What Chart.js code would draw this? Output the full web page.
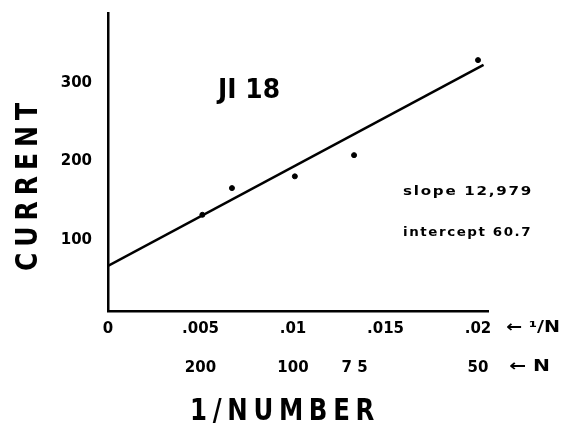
<!DOCTYPE html>
<html>
<head>
<meta charset="utf-8">
<script src="https://cdn.jsdelivr.net/npm/chart.js@4.4.1/dist/chart.umd.min.js"></script>
<style>
html, body { margin: 0; padding: 0; background: #fff; }
</style>
</head>
<body>
<canvas id="chart" width="562" height="423"></canvas>
<script>
// measured points (1/N vs current)
var invN = [0.0051, 0.0067, 0.0101, 0.0133, 0.0200];
var current = [132, 166, 181, 208, 329];
// fitted line as drawn
var fitX = [0, 0.0203];
var fitY = [67, 323];
// axis ticks
var xTicks = [0, 0.005, 0.01, 0.015, 0.02];
var xTickLabels = ['0', '.005', '.01', '.015', '.02'];
var nTicks = [0.005, 0.01, 0.013333, 0.02];
var nTickLabels = ['200', '100', '7 5', '50'];
var yTicks = [100, 200, 300];
var yTickLabels = ['100', '200', '300'];

var tickFont = { family: 'DejaVu Sans', size: 15, weight: 'bold' };

// draw text squeezed/stretched to a given width
function fitText(ctx, text, x, y, width, rot) {
    ctx.save();
    ctx.translate(x, y);
    if (rot) ctx.rotate(rot);
    var w = ctx.measureText(text).width;
    ctx.scale(width / w, 1);
    ctx.fillText(text, 0, 0);
    ctx.restore();
}

var labelsPlugin = {
    id: 'labels',
    afterDraw: function(chart) {
        var ctx = chart.ctx;
        var xs = chart.scales.x, ys = chart.scales.y;
        ctx.save();
        ctx.fillStyle = '#000';
        ctx.textAlign = 'center';
        ctx.textBaseline = 'alphabetic';

        // axis titles
        ctx.font = 'bold 30px "DejaVu Sans"';
        ctx.letterSpacing = '7px';
        fitText(ctx, 'CURRENT', 37, 184, 174, -Math.PI / 2);
        fitText(ctx, '1/NUMBER', 285, 420, 190, 0);

        // sample label
        ctx.letterSpacing = '0px';
        ctx.textBaseline = 'middle';
        ctx.font = 'bold 27px "DejaVu Sans"';
        fitText(ctx, 'JI 18', 249, 91, 62, 0);

        // fit parameters
        ctx.textAlign = 'left';
        ctx.font = 'bold 13px "DejaVu Sans"';
        ctx.letterSpacing = '1.5px';
        fitText(ctx, 'slope 12,979', xs.getPixelForValue(0.01595), ys.getPixelForValue(161), 130, 0);
        fitText(ctx, 'intercept 60.7', xs.getPixelForValue(0.01595), ys.getPixelForValue(109), 129, 0);

        // axis keys
        ctx.letterSpacing = '0px';
        ctx.font = 'bold 16px "DejaVu Sans"';
        fitText(ctx, '\u2190 \u00b9/N', 506, 328, 54, 0);
        fitText(ctx, '\u2190 N', 509, 367, 41, 0);
        ctx.restore();
    }
};

var ctx = document.getElementById('chart');
new Chart(ctx, {
    type: 'scatter',
    data: {
        datasets: [{
            label: 'fit',
            type: 'line',
            data: fitX.map(function(x, i) { return { x: x, y: fitY[i] }; }),
            borderColor: '#000',
            borderWidth: 2.5,
            pointRadius: 0,
            fill: false
        }, {
            label: 'current',
            data: invN.map(function(x, i) { return { x: x, y: current[i] }; }),
            backgroundColor: '#000',
            borderColor: '#000',
            pointRadius: 2.5
        }]
    },
    options: {
        responsive: false,
        animation: false,
        layout: { padding: { top: 13, right: 74, left: 0, bottom: 0 } },
        plugins: {
            legend: { display: false },
            tooltip: { enabled: false }
        },
        scales: {
            x: {
                type: 'linear',
                position: 'bottom',
                min: 0,
                max: 0.02054,
                afterBuildTicks: function(s) { s.ticks = xTicks.map(function(v) { return { value: v }; }); },
                afterFit: function(s) { s.height = 40; },
                ticks: {
                    color: '#000',
                    font: tickFont,
                    padding: 9,
                    maxRotation: 0,
                    autoSkip: false,
                    callback: function(v) { return xTickLabels[xTicks.indexOf(v)]; }
                },
                grid: { display: false, drawTicks: false },
                border: { color: '#000', width: 2.5 }
            },
            x2: {
                type: 'linear',
                position: 'bottom',
                min: 0,
                max: 0.02054,
                afterBuildTicks: function(s) { s.ticks = nTicks.map(function(v) { return { value: v }; }); },
                afterFit: function(s) { s.height = 72; },
                ticks: {
                    color: '#000',
                    font: tickFont,
                    padding: 8,
                    maxRotation: 0,
                    autoSkip: false,
                    callback: function(v) { return nTickLabels[nTicks.indexOf(v)]; }
                },
                grid: { display: false, drawTicks: false },
                border: { display: false }
            },
            y: {
                min: 9.5,
                max: 389,
                afterBuildTicks: function(s) { s.ticks = yTicks.map(function(v) { return { value: v }; }); },
                afterFit: function(s) { s.width = 108; s.paddingTop = 0; s.paddingBottom = 0; },
                ticks: {
                    color: '#000',
                    font: tickFont,
                    padding: 16,
                    callback: function(v) { return yTickLabels[yTicks.indexOf(v)]; }
                },
                grid: { display: false, drawTicks: false },
                border: { color: '#000', width: 2.5 }
            }
        }
    },
    plugins: [labelsPlugin]
});
</script>
</body>
</html>
